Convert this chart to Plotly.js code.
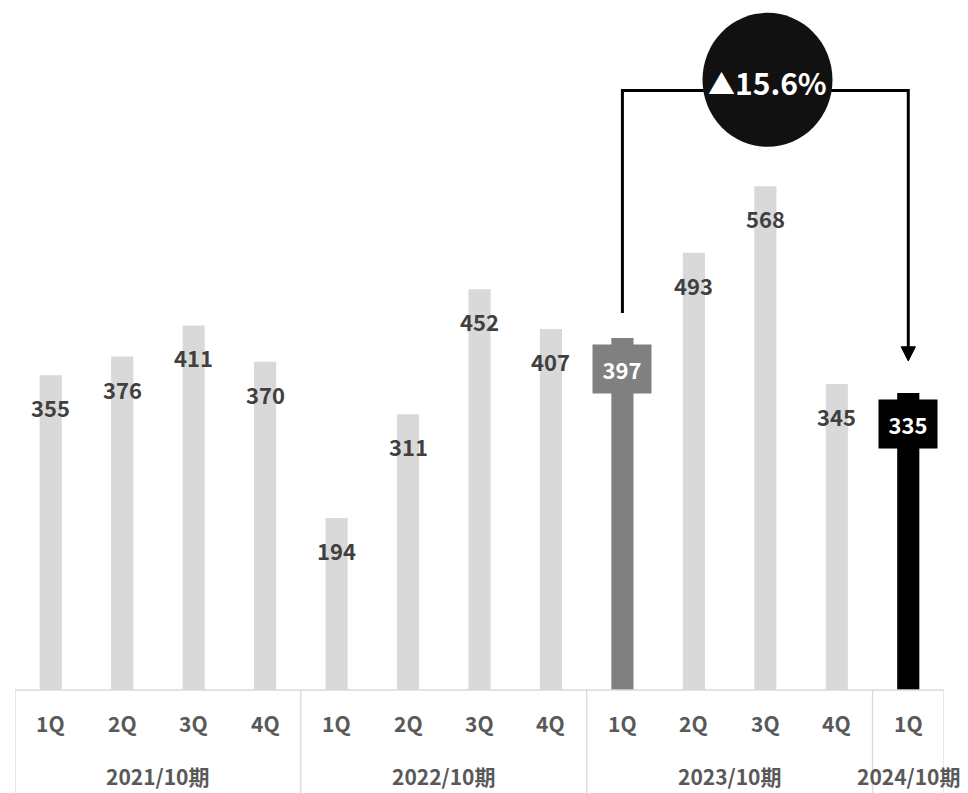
<!DOCTYPE html>
<html><head><meta charset="utf-8">
<script src="https://cdn.plot.ly/plotly-3.0.1.min.js"></script>
<style>html,body{margin:0;padding:0;background:#fff;}#chart{width:968px;height:793px;}</style>
</head><body><div id="chart"></div>
<script>
const quarters = ['1Q','2Q','3Q','4Q','1Q','2Q','3Q','4Q','1Q','2Q','3Q','4Q','1Q'];
const values = [355,376,411,370,194,311,452,407,397,493,568,345,335];
const groups = ['2021/10期','2022/10期','2023/10期','2024/10期'];
const groupSizes = [4,4,4,1];
const changeMark = '▲';
const changeValue = '15.6%';
const highlightFrom = 8, highlightTo = 12;

const FONT = 'Noto Sans CJK JP, Noto Sans, sans-serif';
const idx = values.map((_, i) => i);
const colors = values.map((_, i) => i === highlightFrom ? '#808080' : (i === highlightTo ? '#000000' : '#d9d9d9'));

const annotations = [];
const shapes = [];
// value labels
values.forEach((v, i) => {
  const boxed = (i === highlightFrom || i === highlightTo);
  annotations.push({
    x: i, y: v, xref: 'x', yref: 'y', text: String(v), showarrow: false,
    yshift: boxed ? -31 : -32,
    font: {family: FONT, size: 22, weight: 'bold', color: boxed ? '#ffffff' : '#404040'},
    bgcolor: boxed ? colors[i] : 'rgba(0,0,0,0)',
    width: boxed ? 56 : undefined, height: boxed ? 46 : undefined, borderpad: boxed ? 1 : 0
  });
});
// quarter labels
quarters.forEach((q, i) => {
  annotations.push({x: i, y: 0, xref: 'x', yref: 'y', yanchor: 'middle', yshift: -33, text: q, showarrow: false,
    font: {family: FONT, size: 21, weight: 'bold', color: '#595959'}});
});
// group labels & separators
let start = 0;
const sepColor = '#d9d9d9';
shapes.push({type: 'line', xref: 'x', yref: 'paper', x0: -0.5, x1: values.length - 0.5, y0: 0, y1: 0, line: {color: sepColor, width: 1.3}});
shapes.push({type: 'line', xref: 'x', yref: 'paper', x0: -0.5, x1: -0.5, y0: 0, y1: -0.15, line: {color: sepColor, width: 1.3}});
groups.forEach((g, k) => {
  const n = groupSizes[k];
  const center = start + (n - 1) / 2;
  annotations.push({x: center, y: 0, xref: 'x', yref: 'y', yanchor: 'middle', yshift: -86, text: g, showarrow: false,
    font: {family: FONT, size: 21, weight: 'bold', color: '#595959'}});
  start += n;
  shapes.push({type: 'line', xref: 'x', yref: 'paper', x0: start - 0.5, x1: start - 0.5, y0: 0, y1: -0.15, line: {color: sepColor, width: 1.3}});
});

// bracket with arrow (y in axis units)
const topY = 676, leftBottom = 425, arrowBase = 387, arrowTip = 371, hw = 0.1;
shapes.push({type: 'path', xref: 'x', yref: 'y',
  path: `M ${highlightFrom} ${leftBottom} L ${highlightFrom} ${topY} L ${highlightTo} ${topY} L ${highlightTo} ${arrowBase}`,
  line: {color: '#000', width: 3}});
shapes.push({type: 'path', xref: 'x', yref: 'y',
  path: `M ${highlightTo - hw} ${arrowBase} L ${highlightTo + hw} ${arrowBase} L ${highlightTo} ${arrowTip} Z`,
  fillcolor: '#000', line: {color: '#000', width: 1}});
// circle
const cx = 10.03, cy = 688;
shapes.push({type: 'circle', xref: 'x', yref: 'y', xsizemode: 'pixel', ysizemode: 'pixel',
  xanchor: cx, yanchor: cy, x0: -65, x1: 65, y0: -67, y1: 67, fillcolor: '#111111', line: {color: '#111111', width: 0}});
annotations.push({x: cx, y: cy, xref: 'x', yref: 'y',
  text: '<span style="font-size:27px">' + changeMark + '</span>' + changeValue, showarrow: false, yshift: -2,
  font: {family: FONT, size: 30, weight: 'bold', color: '#ffffff'}});

const trace = {type: 'bar', x: idx, y: values, marker: {color: colors}, width: 0.31, hoverinfo: 'none'};

const layout = {
  width: 968, height: 793,
  margin: {l: 15, r: 24, t: 0, b: 103},
  paper_bgcolor: '#fff', plot_bgcolor: '#fff',
  showlegend: false,
  xaxis: {range: [-0.5, values.length - 0.5], showticklabels: false, showgrid: false, zeroline: false, showline: false, ticks: ''},
  yaxis: {range: [0, 778], showticklabels: false, showgrid: false, zeroline: false, showline: false, ticks: ''},
  annotations: annotations, shapes: shapes
};
Plotly.newPlot('chart', [trace], layout, {staticPlot: true});
</script></body></html>
